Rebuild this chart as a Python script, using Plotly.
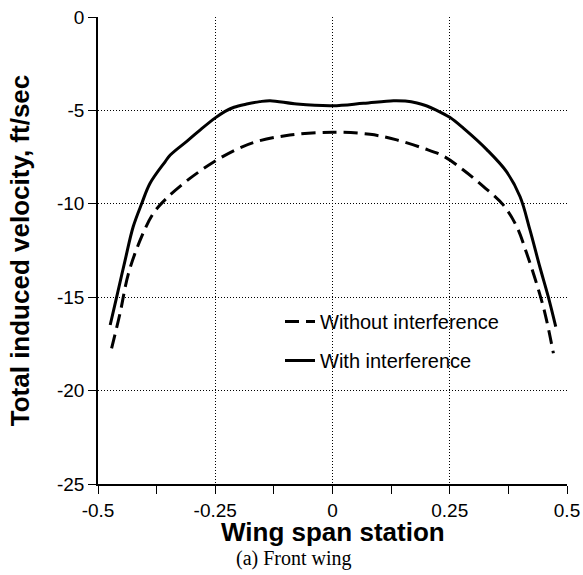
import plotly.graph_objects as go

# Wing span station / total induced velocity (ft/sec)
x_with = [-0.474, -0.460, -0.442, -0.425, -0.407, -0.389, -0.357, -0.346, -0.307, -0.28, -0.25,
          -0.229, -0.21, -0.183, -0.155, -0.133, -0.076, 0.0, 0.066, 0.13, 0.155, 0.18, 0.2,
          0.22, 0.25, 0.279, 0.329, 0.371, 0.40, 0.421, 0.442, 0.46, 0.476]
y_with = [-16.49, -14.97, -13.0, -11.23, -10.0, -8.9, -7.75, -7.39, -6.58, -6.0, -5.4,
          -5.05, -4.83, -4.66, -4.53, -4.48, -4.66, -4.75, -4.62, -4.48, -4.5, -4.6, -4.75,
          -4.97, -5.37, -5.95, -7.1, -8.28, -9.62, -11.4, -13.37, -14.97, -16.58]

x_without = [-0.471, -0.453, -0.435, -0.407, -0.382, -0.354, -0.304, -0.25, -0.204,
             -0.162, -0.091, 0.0, 0.08, 0.137, 0.194, 0.236, 0.279, 0.322, 0.364,
             0.393, 0.414, 0.435, 0.453, 0.471]
y_without = [-17.74, -15.86, -13.72, -11.76, -10.51, -9.71, -8.64, -7.71, -7.08,
             -6.67, -6.32, -6.17, -6.28, -6.58, -7.03, -7.44, -8.19, -9.08, -10.06,
             -11.23, -12.65, -14.26, -15.86, -18.0]

x_ticks = [-0.5, -0.25, 0, 0.25, 0.5]
x_ticklabels = ["-0.5", "-0.25", "0", "0.25", "0.5"]
y_ticks = [0, -5, -10, -15, -20, -25]
y_ticklabels = ["0", "-5", "-10", "-15", "-20", "-25"]

FONT = "Liberation Sans, Arial, Helvetica, sans-serif"

W, H = 583, 575
ML, MR, MT, MB = 98, 16, 17, 91
PW = W - ML - MR
PH = H - MT - MB

fig = go.Figure()
fig.add_trace(go.Scatter(
    x=x_without, y=y_without, mode="lines", name="Without interference",
    legendgroup="a",
    line=dict(color="black", width=3, dash="14px,7px", shape="spline", smoothing=1.0),
))
fig.add_trace(go.Scatter(
    x=x_with, y=y_with, mode="lines", name="With interference",
    legendgroup="b",
    line=dict(color="black", width=3, shape="spline", smoothing=1.0),
))

fig.update_layout(
    width=W, height=H,
    margin=dict(l=ML, r=MR, t=MT, b=MB),
    paper_bgcolor="white", plot_bgcolor="white",
    font=dict(family=FONT, size=20, color="black"),
    showlegend=True,
    legend=dict(
        x=(280 - ML) / PW, y=1 - (302 - MT) / PH, xanchor="left", yanchor="top",
        bgcolor="rgba(0,0,0,0)", borderwidth=0,
        font=dict(family=FONT, size=20, color="black"),
        tracegroupgap=10,
    ),
    annotations=[
        dict(
            text="<b>Wing span station</b>", xref="paper", yref="paper",
            x=0.5, y=-(532 - (MT + PH)) / PH, xanchor="center", yanchor="middle",
            showarrow=False, font=dict(family=FONT, size=26, color="black"),
        ),
        dict(
            text="(a) Front wing", xref="paper", yref="paper",
            x=(294 - ML) / PW, y=-(558 - (MT + PH)) / PH, xanchor="center", yanchor="middle",
            showarrow=False, font=dict(family="Liberation Serif, Times New Roman, serif", size=20, color="black"),
        ),
    ],
)

fig.update_xaxes(
    range=[-0.5, 0.5], tickvals=x_ticks, ticktext=x_ticklabels,
    showline=True, linecolor="black", linewidth=1.5,
    ticks="outside", ticklen=8, tickwidth=1.2, tickcolor="black",
    showgrid=True, gridcolor="black", gridwidth=1, griddash="1px,2px",
    zeroline=False, ticklabeloverflow="allow",
    minor=dict(ticks="outside", ticklen=8, tickwidth=1.2, tickcolor="black", dtick=0.125, tick0=0, showgrid=False),
    tickfont=dict(family=FONT, size=19),
    automargin=False,
)
fig.update_yaxes(
    range=[-25, 0], tickvals=y_ticks, ticktext=y_ticklabels,
    showline=True, linecolor="black", linewidth=1.5,
    ticks="outside", ticklen=8, tickwidth=1.2, tickcolor="black",
    showgrid=True, gridcolor="black", gridwidth=1, griddash="1px,2px",
    zeroline=False, ticklabeloverflow="allow",
    tickfont=dict(family=FONT, size=19),
    title=dict(text="<b>Total induced velocity, ft/sec</b>", font=dict(family=FONT, size=26), standoff=20),
    automargin=False,
)

# remove the browser's default 8px body margin so the figure fills the window
fig.write_html(
    "out.html",
    config={"displayModeBar": False},
    post_script="document.body.style.margin='0px';document.body.style.overflow='hidden';",
)
